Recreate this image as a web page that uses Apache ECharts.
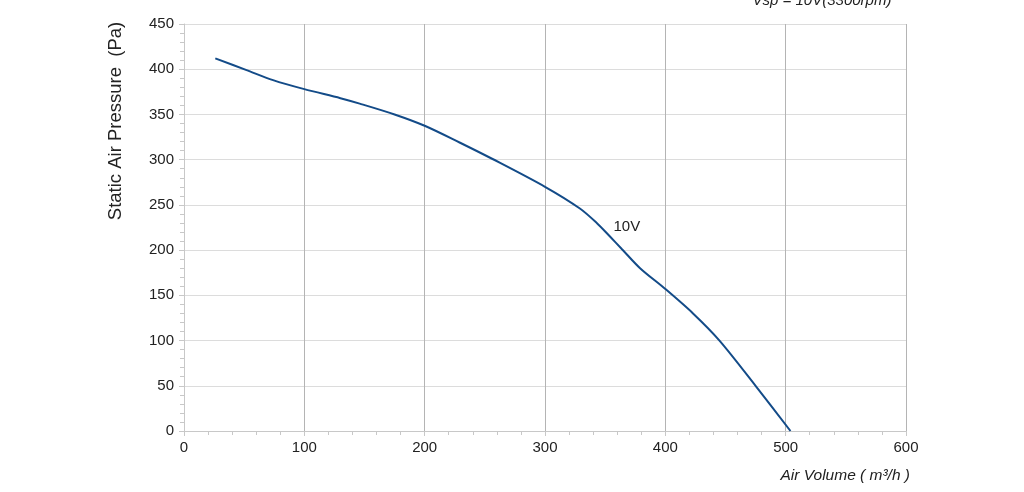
<!DOCTYPE html>
<html>
<head>
<meta charset="utf-8">
<script src="https://cdn.jsdelivr.net/npm/echarts@6/dist/echarts.min.js"></script>
<style>
html,body{margin:0;padding:0;background:#fff;}
#c{width:1024px;height:492px;}
</style>
</head>
<body>
<div id="c"></div>
<script>
var airVolume = [26, 52, 74, 100, 130, 146, 175, 200, 229, 256, 300, 329, 343, 354, 364, 379, 400, 423, 445, 475, 504];
var pressure  = [412, 399, 388, 378, 368, 362, 350, 337.5, 319, 301, 270, 246, 230, 215, 201, 180, 157, 130, 100, 50, 0];
var seriesName = '10V';
var labelPoint = [368, 226];
var titleText = 'Vsp = 10V(3300rpm)';
var xName = 'Air Volume ( m\u00B3/h )';
var yName = 'Static Air Pressure  (Pa)';

var chart = echarts.init(document.getElementById('c'));
var font = 'Liberation Sans, Arial, sans-serif';
chart.setOption({
  animation: false,
  grid: {left: 184, right: 118, top: 24, bottom: 61},
  xAxis: {
    type: 'value', min: 0, max: 600, interval: 100,
    axisLine: {show: true, lineStyle: {color: '#c8c8c8'}},
    axisTick: {show: true, length: 5, lineStyle: {color: '#c8c8c8'}},
    minorTick: {show: true, splitNumber: 5, length: 4, lineStyle: {color: '#c8c8c8'}},
    axisLabel: {color: '#222', fontSize: 15, fontFamily: font, margin: 9},
    splitLine: {show: true, lineStyle: {color: '#b4b4b4', width: 1}}
  },
  yAxis: {
    type: 'value', min: 0, max: 450, interval: 50,
    axisLine: {show: true, lineStyle: {color: '#c8c8c8'}},
    axisTick: {show: true, length: 5, lineStyle: {color: '#c8c8c8'}},
    minorTick: {show: true, splitNumber: 5, length: 4, lineStyle: {color: '#c8c8c8'}},
    axisLabel: {color: '#222', fontSize: 15, fontFamily: font, margin: 10},
    splitLine: {show: true, lineStyle: {color: '#dcdcdc', width: 1}}
  },
  graphic: [
    {type: 'text', x: 822, y: 8, style: {text: titleText, fontSize: 15, fontStyle: 'italic', fontFamily: font, fill: '#222', align: 'center', verticalAlign: 'bottom'}},
    {type: 'text', x: 910, y: 476, style: {text: xName, fontSize: 15.5, fontStyle: 'italic', fontFamily: font, fill: '#222', align: 'right', verticalAlign: 'middle'}},
    {type: 'text', x: 116, y: 121, rotation: Math.PI / 2, style: {text: yName, fontSize: 18.5, fontFamily: font, fill: '#222', align: 'center', verticalAlign: 'middle'}}
  ],
  series: [{
    name: seriesName,
    type: 'line',
    smooth: 0.3,
    showSymbol: false,
    lineStyle: {color: '#134b88', width: 2},
    data: airVolume.map(function (v, i) { return [v, pressure[i]]; }),
    markPoint: {
      symbol: 'circle', symbolSize: 0,
      label: {show: true, formatter: seriesName, color: '#222', fontSize: 15, fontFamily: font, position: 'inside'},
      data: [{coord: labelPoint}]
    }
  }]
});
</script>
</body>
</html>
